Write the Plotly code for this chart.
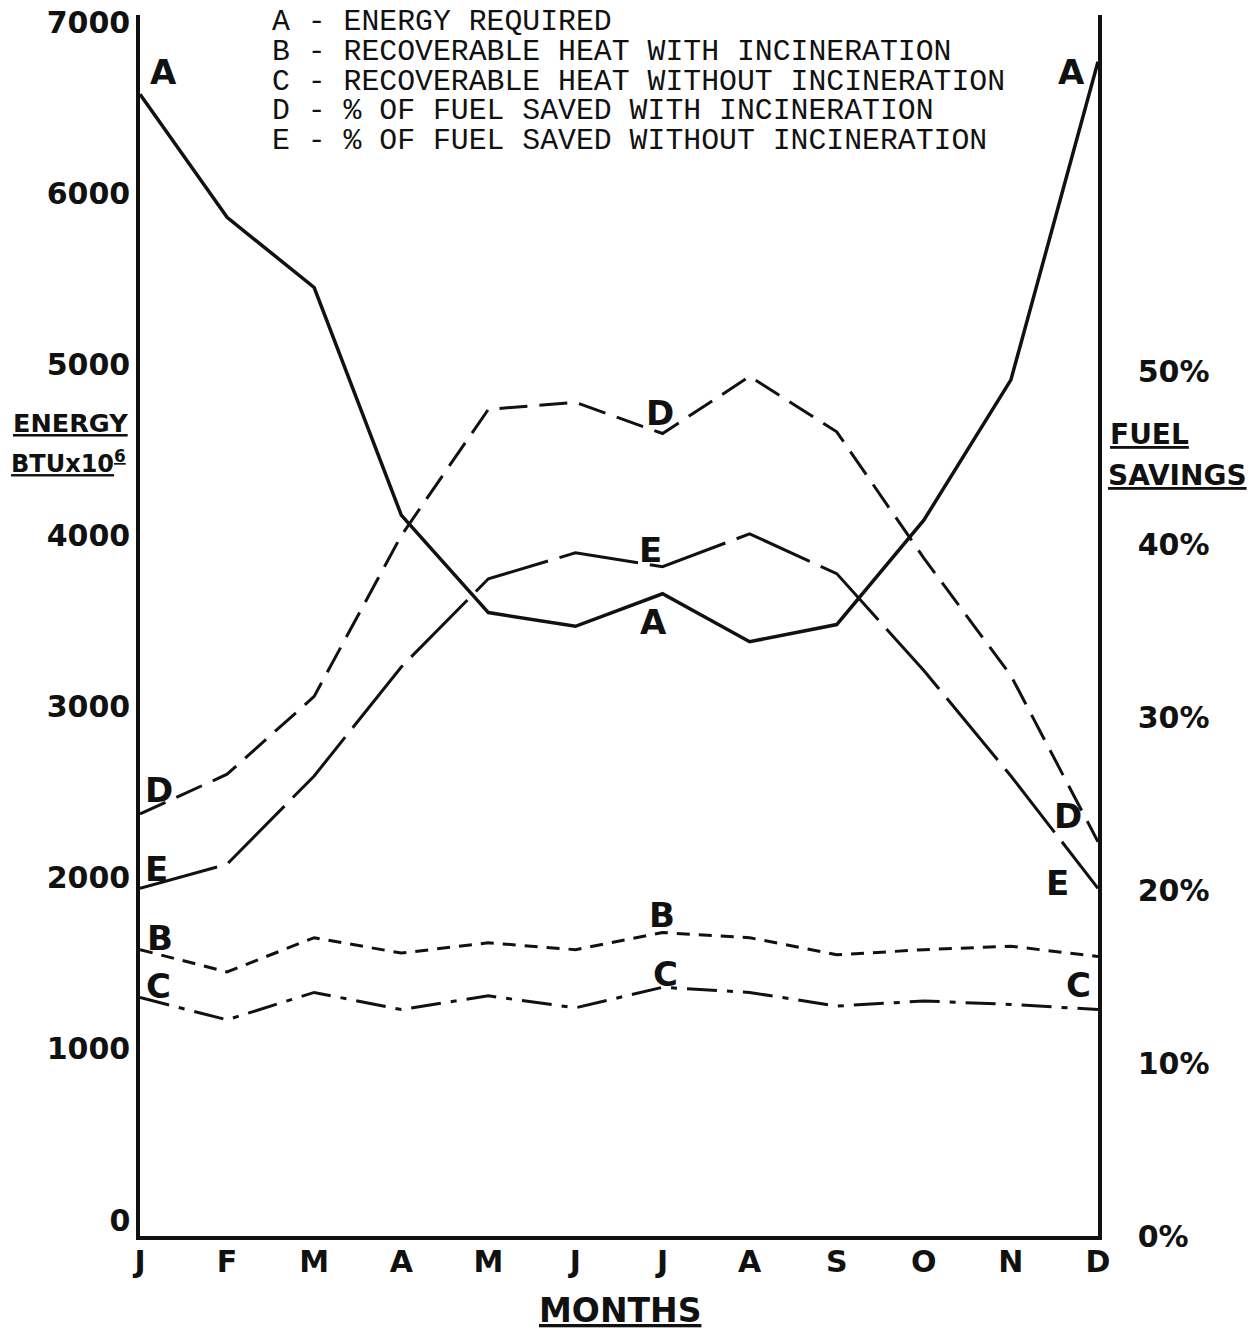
import plotly.graph_objects as go

# ---------------- data ----------------
months = ["J", "F", "M", "A", "M", "J", "J", "A", "S", "O", "N", "D"]
month_idx = list(range(12))

# Energy, BTU x 10^6 (left axis)
energy_required = [6580, 5860, 5450, 4120, 3550, 3470, 3660, 3380, 3480, 4090, 4910, 6770]
heat_with_incin = [1580, 1450, 1650, 1560, 1620, 1580, 1680, 1650, 1550, 1580, 1600, 1540]
heat_without_incin = [1300, 1170, 1330, 1230, 1310, 1240, 1360, 1330, 1250, 1280, 1260, 1230]

# Fuel savings, % (right axis)
pct_saved_with = [24.4, 26.7, 31.2, 40.5, 47.8, 48.2, 46.4, 49.7, 46.5, 39.2, 32.4, 22.8]
pct_saved_without = [20.1, 21.5, 26.6, 32.9, 38.0, 39.5, 38.7, 40.6, 38.3, 32.7, 26.6, 20.1]

energy_ticks = [0, 1000, 2000, 3000, 4000, 5000, 6000, 7000]
pct_ticks = [0, 10, 20, 30, 40, 50]
pct_tick_text = ["0%", "10%", "20%", "30%", "40%", "50%"]

legend_lines = [
    "A - ENERGY REQUIRED",
    "B - RECOVERABLE HEAT WITH INCINERATION",
    "C - RECOVERABLE HEAT WITHOUT INCINERATION",
    "D - % OF FUEL SAVED WITH INCINERATION",
    "E - % OF FUEL SAVED WITHOUT INCINERATION",
]

# ---------------- figure ----------------
INK = "#111111"
HAND = "DejaVu Sans"
TYPE = "Liberation Mono"

fig = go.Figure()

fig.add_trace(go.Scatter(x=month_idx, y=energy_required, mode="lines", yaxis="y",
                         line=dict(color=INK, width=3.5), name="A"))
fig.add_trace(go.Scatter(x=month_idx, y=heat_with_incin, mode="lines", yaxis="y",
                         line=dict(color=INK, width=3, dash="13px,9px"), name="B"))
fig.add_trace(go.Scatter(x=month_idx, y=heat_without_incin, mode="lines", yaxis="y",
                         line=dict(color=INK, width=3, dash="30px,10px,6px,10px"), name="C"))
fig.add_trace(go.Scatter(x=month_idx, y=pct_saved_with, mode="lines", yaxis="y2",
                         line=dict(color=INK, width=3, dash="28px,12px"), name="D"))
fig.add_trace(go.Scatter(x=month_idx, y=pct_saved_without, mode="lines", yaxis="y2",
                         line=dict(color=INK, width=3, dash="80px,12px"), name="E"))

# plot area in page pixels
W, H = 1258, 1336
PX0, PX1, PY0, PY1 = 140, 1098, 15, 1236


def paper(sx, sy):
    return (sx - PX0) / (PX1 - PX0), (PY1 - sy) / (PY1 - PY0)


annotations = []


def ann(text, sx, sy, size, family=HAND, xanchor="center", weight="bold", height=None):
    px, py = paper(sx, sy)
    a = dict(text=text, x=px, y=py, xref="paper", yref="paper",
             xanchor=xanchor, yanchor="middle", showarrow=False,
             font=dict(family=family, size=size, color=INK, weight=weight))
    if height is not None:
        a.update(height=height, borderpad=0, valign="middle")
    annotations.append(a)


for i, line in enumerate(legend_lines):
    ann(line, 271, 21 + 30 * i, 29.8, family=TYPE, xanchor="left", weight="normal", height=29)

# curve labels
for t, sx, sy in [("A", 163, 72), ("A", 1071, 72), ("A", 653, 622),
                  ("D", 159, 790), ("D", 660, 413), ("D", 1068, 816),
                  ("E", 156, 869), ("E", 650, 550), ("E", 1057, 883),
                  ("B", 160, 938), ("B", 662, 915),
                  ("C", 158, 986), ("C", 665, 974), ("C", 1078, 985)]:
    ann(t, sx, sy, 34)

# axis titles
ann("<u>ENERGY</u>", 70, 423, 25.5)
ann("<u>BTUx10<sup>6</sup></u>", 68, 462, 24)
ann("<u>FUEL</u>", 1108, 435, 28, xanchor="left")
ann("<u>SAVINGS</u>", 1106, 476, 28, xanchor="left")
ann("<u>MONTHS</u>", 620, 1311, 33)

tickfont = dict(family=HAND, size=30, color=INK, weight="bold")

fig.update_layout(
    width=W, height=H,
    margin=dict(l=PX0, r=W - PX1, t=PY0, b=H - PY1, autoexpand=False),
    paper_bgcolor="white", plot_bgcolor="white",
    showlegend=False,
    annotations=annotations,
    xaxis=dict(range=[0, 11], tickvals=month_idx, ticktext=months,
               showline=True, linecolor=INK, linewidth=3.5, showgrid=False, zeroline=False,
               ticks="", ticklabelstandoff=-4, automargin=False, ticklabeloverflow="allow",
               tickfont=tickfont),
    yaxis=dict(range=[-93.5, 7042.7], tickvals=energy_ticks,
               showline=True, linecolor=INK, linewidth=3.5, showgrid=False, zeroline=False,
               ticks="", ticklabelstandoff=0, automargin=False, ticklabeloverflow="allow",
               tickfont=tickfont),
    yaxis2=dict(range=[0, 70.6], tickvals=pct_ticks, ticktext=pct_tick_text,
                overlaying="y", side="right",
                showline=True, linecolor=INK, linewidth=3.5, showgrid=False, zeroline=False,
                ticks="", ticklabelstandoff=30, automargin=False, ticklabeloverflow="allow",
                tickfont=tickfont),
)

# the page's default 8px body margin is removed so the figure fills the window exactly
fig.write_html("out.html", config={"displayModeBar": False},
               post_script="document.body.style.margin='0px';")
